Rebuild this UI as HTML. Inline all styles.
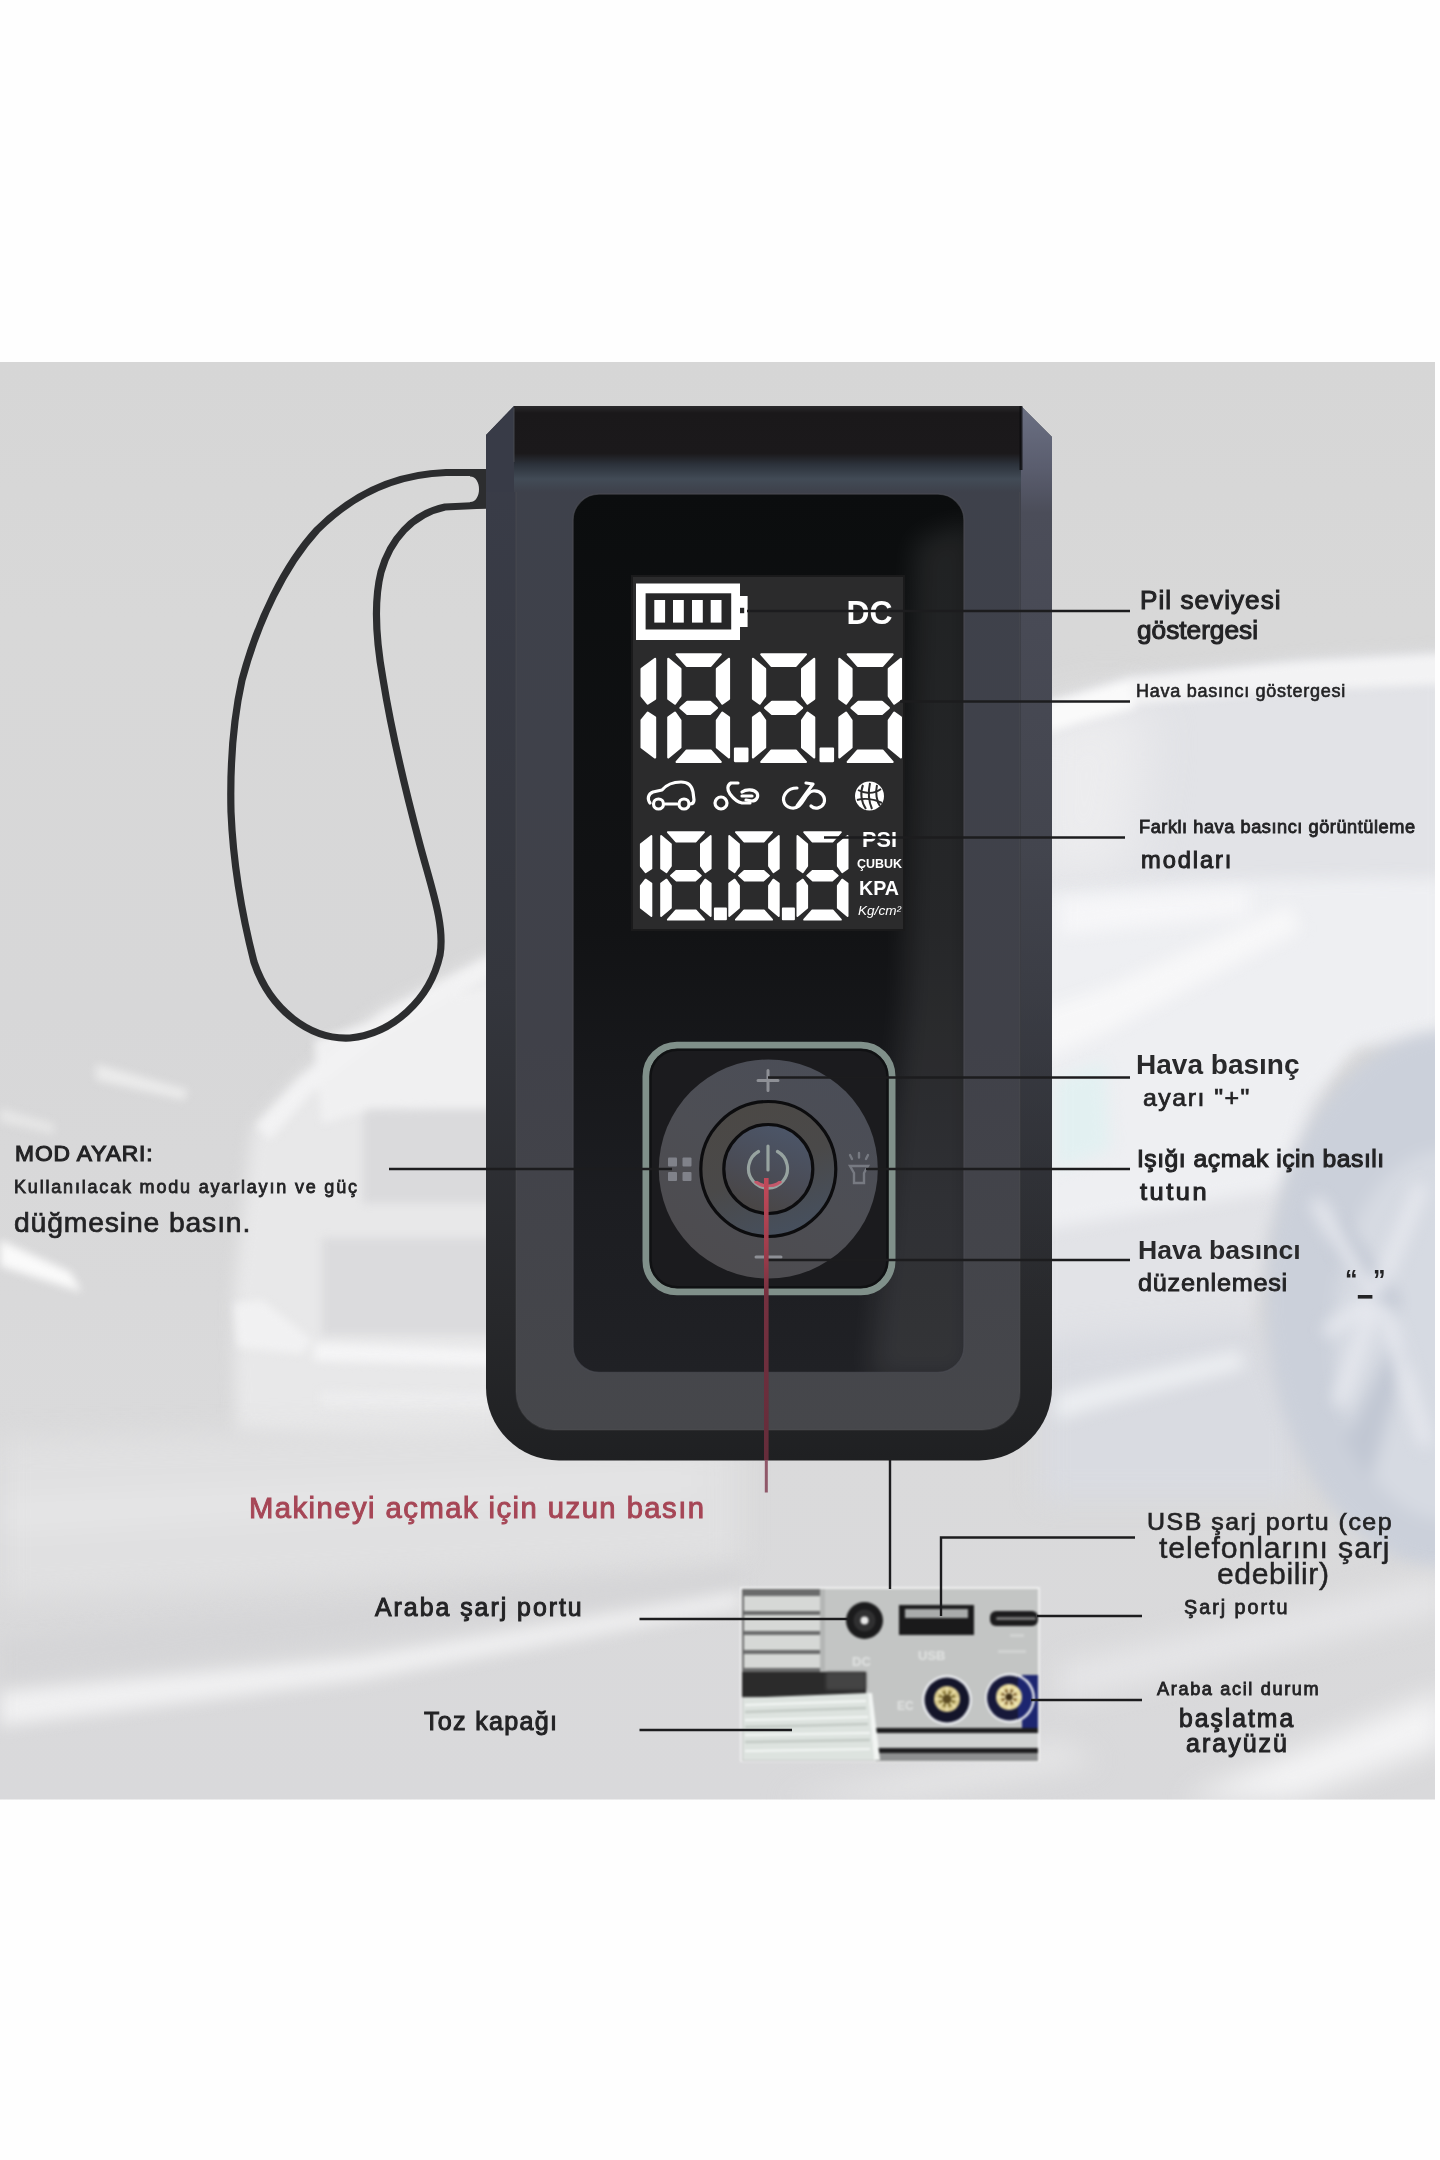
<!DOCTYPE html>
<html lang="tr">
<head>
<meta charset="utf-8">
<title>Lastik Pompası - Ürün Şeması</title>
<style>
html,body{margin:0;padding:0;background:#fefefe;}
body{width:1440px;height:2160px;position:relative;overflow:hidden;font-family:"Liberation Sans",sans-serif;}
#stage{position:absolute;left:0;top:0;width:1440px;height:2160px;}
#art{position:absolute;left:0;top:0;}
.t{position:absolute;white-space:nowrap;line-height:1;transform-origin:0 50%;color:#222;-webkit-text-stroke:0 currentColor;letter-spacing:0;filter:blur(0.45px);}
.lcd{font-family:"Liberation Sans",sans-serif;fill:#fff;}
</style>
</head>
<body>
<div id="stage">
<svg id="art" width="1440" height="2160" viewBox="0 0 1440 2160">
<defs>
<clipPath id="photo"><rect x="0" y="362" width="1435" height="1437.5"/></clipPath>
<filter color-interpolation-filters="sRGB" id="b4" x="-20%" y="-20%" width="140%" height="140%"><feGaussianBlur stdDeviation="4"/></filter>
<filter color-interpolation-filters="sRGB" id="b8" x="-30%" y="-30%" width="160%" height="160%"><feGaussianBlur stdDeviation="8"/></filter>
<filter color-interpolation-filters="sRGB" id="b14" x="-30%" y="-30%" width="160%" height="160%"><feGaussianBlur stdDeviation="14"/></filter>
<filter color-interpolation-filters="sRGB" id="b25" x="-40%" y="-40%" width="180%" height="180%"><feGaussianBlur stdDeviation="25"/></filter>
<filter color-interpolation-filters="sRGB" id="b40" x="-50%" y="-50%" width="200%" height="200%"><feGaussianBlur stdDeviation="40"/></filter>
<filter color-interpolation-filters="sRGB" id="b1" x="-10%" y="-10%" width="120%" height="120%"><feGaussianBlur stdDeviation="0.7"/></filter>
<filter color-interpolation-filters="sRGB" id="b2" x="-10%" y="-10%" width="120%" height="120%"><feGaussianBlur stdDeviation="1.6"/></filter>
<linearGradient id="bgbase" x1="0" y1="0" x2="0" y2="1">
  <stop offset="0" stop-color="#d6d6d6"/>
  <stop offset="0.18" stop-color="#d8d8d8"/>
  <stop offset="0.45" stop-color="#d7d7d8"/>
  <stop offset="0.75" stop-color="#dadadb"/>
  <stop offset="1" stop-color="#d9d9db"/>
</linearGradient>
<linearGradient id="bodyOuter" x1="0" y1="0" x2="0" y2="1">
  <stop offset="0" stop-color="#3a3d49"/>
  <stop offset="0.55" stop-color="#34363d"/>
  <stop offset="0.85" stop-color="#28292c"/>
  <stop offset="1" stop-color="#1f2022"/>
</linearGradient>
<linearGradient id="bodyFace" x1="0" y1="0" x2="0" y2="1">
  <stop offset="0" stop-color="#3e414b"/>
  <stop offset="0.6" stop-color="#404149"/>
  <stop offset="1" stop-color="#46474b"/>
</linearGradient>
<linearGradient id="rightStrip" gradientUnits="userSpaceOnUse" x1="0" y1="406" x2="0" y2="1300">
  <stop offset="0" stop-color="#6b7083"/>
  <stop offset="0.07" stop-color="#5a5d6e"/>
  <stop offset="0.12" stop-color="#4b4d59"/>
  <stop offset="0.5" stop-color="#44464f" stop-opacity="0.9"/>
  <stop offset="1" stop-color="#34363d" stop-opacity="0"/>
</linearGradient>
<linearGradient id="lid" x1="0" y1="0" x2="0" y2="1">
  <stop offset="0" stop-color="#2a292b"/>
  <stop offset="0.08" stop-color="#1a181a"/>
  <stop offset="0.55" stop-color="#1b191b"/>
  <stop offset="0.68" stop-color="#2c323b"/>
  <stop offset="0.85" stop-color="#424b56"/>
  <stop offset="1" stop-color="#3e414b"/>
</linearGradient>
<linearGradient id="panel" x1="0" y1="0" x2="0" y2="1">
  <stop offset="0" stop-color="#0b0d0e"/>
  <stop offset="0.5" stop-color="#121315"/>
  <stop offset="0.8" stop-color="#1c1d21"/>
  <stop offset="1" stop-color="#202125"/>
</linearGradient>
<linearGradient id="dial" x1="0.8" y1="0" x2="0.2" y2="1">
  <stop offset="0" stop-color="#4a4d57"/>
  <stop offset="0.5" stop-color="#4d4e54"/>
  <stop offset="1" stop-color="#4d4b4e"/>
</linearGradient>
<linearGradient id="dialMid" x1="0.3" y1="0" x2="0.7" y2="1">
  <stop offset="0" stop-color="#4b4845"/>
  <stop offset="0.5" stop-color="#4a4949"/>
  <stop offset="1" stop-color="#46505f"/>
</linearGradient>
<linearGradient id="dialIn" x1="0.7" y1="0" x2="0.3" y2="1">
  <stop offset="0" stop-color="#4c5669"/>
  <stop offset="0.55" stop-color="#4a4c56"/>
  <stop offset="1" stop-color="#494543"/>
</linearGradient>
<linearGradient id="redline" gradientUnits="userSpaceOnUse" x1="0" y1="1178" x2="0" y2="1460">
  <stop offset="0" stop-color="#c24a5a"/>
  <stop offset="0.25" stop-color="#a03d4c"/>
  <stop offset="0.42" stop-color="#74303f"/>
  <stop offset="1" stop-color="#642c3a"/>
</linearGradient>
<filter color-interpolation-filters="sRGB" id="b11" x="-5%" y="-5%" width="110%" height="110%"><feGaussianBlur stdDeviation="1.0"/></filter>
<filter color-interpolation-filters="sRGB" id="bdev" filterUnits="userSpaceOnUse" x="470" y="390" width="600" height="1090"><feGaussianBlur stdDeviation="0.6"/></filter>
<filter color-interpolation-filters="sRGB" id="bstrap" filterUnits="userSpaceOnUse" x="210" y="450" width="290" height="610"><feGaussianBlur stdDeviation="0.6"/></filter>
<clipPath id="panelclip"><rect x="573" y="494" width="391" height="878.5" rx="26"/></clipPath>
<filter color-interpolation-filters="sRGB" id="b14w" x="-100%" y="-20%" width="300%" height="140%"><feGaussianBlur stdDeviation="14"/></filter>

</defs>
<g clip-path="url(#photo)">
  <rect x="0" y="362" width="1435" height="1438" fill="url(#bgbase)"/>
  <!-- right car body -->
  <g filter="url(#b8)">
    <path d="M1040 708 L1130 676 L1300 660 L1445 652 L1445 1060 L1340 1040 L1310 1140 L1270 1235 L1250 1340 L1040 1360 Z" fill="#e2e3e7"/>
  </g>
  <g filter="url(#b25)">
    <path d="M1030 720 L1120 700 L1150 720 L1130 870 L1030 880 Z" fill="#ececee"/>
  </g>
  <g filter="url(#b14)">
    <path d="M1040 1340 L1260 1320 L1300 1420 L1300 1500 L1040 1500 Z" fill="#d9dbe1"/>

  </g>
  <g filter="url(#b8)">
    <path d="M1040 892 L1200 880 L1445 878 L1445 1030 L1360 1045 L1310 1100 L1278 1190 L1040 1230 Z" fill="#eeeff2"/>
  </g>
  <g filter="url(#b8)">
    <path d="M1040 1010 L1100 990 L1290 905 L1300 930 L1110 1030 L1040 1060 Z" fill="#f7f7f8"/>
    <path d="M1060 900 L1250 890 L1250 915 L1060 935 Z" fill="#f6f6f8"/>
  </g>
  <g filter="url(#b8)">
    <ellipse cx="1450" cy="1300" rx="184" ry="268" fill="#cbd0da"/>
    <ellipse cx="1445" cy="1335" rx="112" ry="185" fill="#d6dae2"/>
    <path d="M1390 1324 L1330 1250 L1340 1215 L1400 1300 Z" fill="#bfc5d1"/>
    <path d="M1395 1340 L1345 1440 L1370 1480 L1405 1360 Z" fill="#c1c7d3"/>
  </g>
  <g filter="url(#b4)">
    <path d="M1040 706 L1130 678 L1300 662 L1445 654 L1445 684 L1300 690 L1135 704 L1040 736 Z" fill="#f3f3f4"/>
    <path d="M1048 702 L1130 682 L1135 708 L1050 730 Z" fill="#fafafa"/>
  </g>
  <g filter="url(#b8)">
    <path d="M1056 1080 L1105 1062 L1110 1150 L1056 1170 Z" fill="#e2f0f1"/>
    <!-- wheel spokes -->
    <g stroke="#e6e8ee" stroke-width="14" fill="none" stroke-linecap="round">
      <path d="M1318 1205 L1368 1290"/>
      <path d="M1420 1190 L1378 1290"/>
      <path d="M1372 1310 L1340 1400"/>
      <path d="M1385 1310 L1425 1440"/>
      <path d="M1330 1330 L1365 1305"/>
    </g>
    <path d="M1056 1395 L1090 1385 L1240 1350 L1245 1368 L1095 1408 L1056 1420 Z" fill="#eceef1"/>
  </g>
  <!-- left car -->
  <g filter="url(#b8)">
    <path d="M252 1128 L300 1075 L380 1010 L500 948 L500 1452 L236 1432 L233 1300 Z" fill="#e8e8e9"/>
  </g>
  <g filter="url(#b4)">
    <path d="M314 1040 L500 982 L500 1110 L372 1108 L322 1124 Z" fill="#f0f0f1"/>
    <path d="M256 1126 L300 1078 L382 1013 L500 951 L500 972 L392 1030 L312 1092 L270 1140 Z" fill="#f2f2f3"/>
    <path d="M372 1109 Q363 1109 363 1120 L363 1203 L500 1203 L500 1109 Z" fill="#dadadc"/>
    <rect x="322" y="1238" width="178" height="97" fill="#dbdbdd"/>
    <path d="M234 1303 L262 1300 L312 1340 L302 1354 L238 1347 Z" fill="#f1f1f2"/>
    <path d="M314 1343 L500 1350 L500 1366 L314 1361 Z" fill="#f4f4f5"/>
    <path d="M320 1391 L500 1393 L500 1410 L320 1408 Z" fill="#ececed"/>
  </g>
  <!-- streaks left -->
  <g filter="url(#b4)">
    <path d="M0 1240 L70 1272 L82 1292 L0 1266 Z" fill="#fafafa"/>
    <path d="M96 1064 L188 1090 L184 1100 L96 1080 Z" fill="#ebebeb"/>
    <path d="M0 1108 L54 1124 L54 1134 L0 1122 Z" fill="#e6e6e6"/>
  </g>
  <!-- road -->
  <g filter="url(#b14)">
    <path d="M0 1440 L500 1425 L740 1440 L740 1560 L0 1600 Z" fill="#e0e0e1"/>
    <path d="M0 1500 L700 1470 L700 1490 L0 1530 Z" fill="#e6e6e7"/>
  </g>
  <g filter="url(#b8)">
    <path d="M0 1640 L740 1568 L740 1590 L0 1682 Z" fill="#d5d5d7"/>
    <path d="M0 1692 L360 1657 L740 1592 L740 1607 L360 1680 L0 1726 Z" fill="#f0f0f1"/>
  </g>
  <g filter="url(#b14)">
    <path d="M1180 1800 L1445 1690 L1445 1745 L1290 1800 Z" fill="#f4f4f5"/>
    <path d="M1060 1665 L1445 1575 L1445 1612 L1060 1702 Z" fill="#e6e6e8"/>
    <path d="M780 1800 L1060 1742 L1100 1762 L900 1800 Z" fill="#e6e6e7"/>
  </g>
</g>

<g filter="url(#bstrap)" fill="none" stroke="#2c2d2f" stroke-width="7.2" stroke-linecap="butt" stroke-linejoin="round">
  <path d="M487 472.5 L446 472.5 C 400 474, 355 492, 317 530 C 285 565, 258 620, 242 680 C 232 725, 230 770, 231 812 C 233 860, 242 915, 254 962 C 270 1010, 310 1040, 350 1038 C 392 1034, 430 1000, 440 955 C 445 925, 432 890, 420 845 C 408 800, 392 735, 383 679 C 376 640, 374 600, 381 572 C 390 540, 412 514, 445 507 L487 505"/>
</g>
<path d="M470 470 H487 V508.5 H470 V502 C482 502 482 476.5 470 476.5 Z" fill="#2c2d2f"/>

<g id="device" filter="url(#bdev)">
  <!-- outer shell -->
  <path d="M514 406 L1021 406 L1052 437 L1052 1387.5 A73 73 0 0 1 979 1460.5 L559 1460.5 A73 73 0 0 1 486 1387.5 L486 435 Z" fill="url(#bodyOuter)"/>
  <!-- right strip lighter -->
  <path d="M1021 406 L1052 437 L1052 1300 L1021 1300 Z" fill="url(#rightStrip)"/>
  <!-- face -->
  <path d="M516 462 L1020 462 L1020 1392 A38 38 0 0 1 982 1430 L554 1430 A38 38 0 0 1 516 1392 Z" fill="url(#bodyFace)"/>
  <!-- lid -->
  <path d="M514 406 L1021 406 L1021 492 L514 492 Z" fill="url(#lid)"/>
  <path d="M514 406 L514 492 L486 492 L486 435 Z" fill="#383b47"/>
  <path d="M514 408 L514 462" stroke="#4a4b52" stroke-width="1.5" opacity="0.6"/>
  <path d="M1021 406 L1021 470" stroke="#0c0c0e" stroke-width="3" opacity="0.8"/>
  <!-- subtle bevel lines -->
  <path d="M516 492 L516 1392 A38 38 0 0 0 554 1430 L982 1430 A38 38 0 0 0 1020 1392 L1020 492" fill="none" stroke="#55565b" stroke-width="1.5" opacity="0.28"/>
  <!-- inner glossy panel -->
  <rect x="573" y="494" width="391" height="878.5" rx="26" fill="url(#panel)"/>
  <g clip-path="url(#panelclip)"><path d="M915 540 L975 520 L975 1380 L870 1380 L905 1000 Z" fill="#ffffff" opacity="0.085" filter="url(#b14w)"/></g>
  <rect x="573" y="494" width="391" height="878.5" rx="26" fill="none" stroke="#4a4c52" stroke-width="1.5" opacity="0.7"/>
</g>

<g id="lcd">
  <rect x="632" y="576" width="272" height="354" fill="#2b2b2c"/>
  <rect x="632" y="576" width="272" height="354" fill="none" stroke="#1a1a1b" stroke-width="2"/>
  <!-- battery -->
  <g filter="url(#b1)">
  <path d="M636 583.6 H740 V596 H747.6 V627 H740 V640 H636 Z" fill="#fff"/>
  <rect x="645.6" y="593.3" width="85.6" height="36.2" fill="#262627"/>
  <g fill="#fff">
    <rect x="654.3" y="600" width="10.8" height="22.6"/>
    <rect x="673" y="600" width="10.8" height="22.6"/>
    <rect x="692" y="600" width="10.8" height="22.6"/>
    <rect x="710.7" y="600" width="10.8" height="22.6"/>
  </g>
  <rect x="740" y="607.8" width="4.2" height="5.4" fill="#262627"/>
  </g>
  <!-- DC -->
  <text class="lcd" x="846.6" y="623.6" font-size="34" font-weight="700" textLength="46" lengthAdjust="spacingAndGlyphs" filter="url(#b1)">DC</text>
  <!-- big digits -->
  <g fill="#fff" stroke="#fff" stroke-width="2.2" stroke-linejoin="round" filter="url(#b1)">
<polygon points="655.1,658.8 641.6,668.9 641.6,696.0 647.7,703.6 655.1,698.8"/>
<polygon points="655.1,757.5 641.6,747.4 641.6,720.3 647.7,712.7 655.1,717.5"/>
<polygon points="676.6,654.3 720.7,654.3 710.6,665.8 686.7,665.8"/>
<polygon points="729.0,658.8 716.9,668.9 716.9,696.0 722.3,703.6 729.0,698.8"/>
<polygon points="729.0,757.5 716.9,747.4 716.9,720.3 722.3,712.7 729.0,717.5"/>
<polygon points="676.6,762.0 720.7,762.0 710.6,750.5 686.7,750.5"/>
<polygon points="668.3,757.5 680.4,747.4 680.4,720.3 675.0,712.7 668.3,717.5"/>
<polygon points="668.3,658.8 680.4,668.9 680.4,696.0 675.0,703.6 668.3,698.8"/>
<polygon points="680.4,707.9 687.3,701.8 710.0,701.8 716.9,707.9 710.0,714.0 687.3,714.0"/>
<rect x="735" y="748.5" width="12.4" height="12.6"/>
<polygon points="761.3,654.3 805.9,654.3 795.8,665.8 771.4,665.8"/>
<polygon points="814.2,658.8 802.1,668.9 802.1,696.0 807.5,703.6 814.2,698.8"/>
<polygon points="814.2,757.5 802.1,747.4 802.1,720.3 807.5,712.7 814.2,717.5"/>
<polygon points="761.3,762.0 805.9,762.0 795.8,750.5 771.4,750.5"/>
<polygon points="753.0,757.5 765.1,747.4 765.1,720.3 759.7,712.7 753.0,717.5"/>
<polygon points="753.0,658.8 765.1,668.9 765.1,696.0 759.7,703.6 753.0,698.8"/>
<polygon points="765.1,707.9 772.0,701.8 795.2,701.8 802.1,707.9 795.2,714.0 772.0,714.0"/>
<rect x="820.6" y="748.5" width="12.4" height="12.6"/>
<polygon points="847.7,654.3 892.6,654.3 882.5,665.8 857.8,665.8"/>
<polygon points="900.9,658.8 888.8,668.9 888.8,696.0 894.2,703.6 900.9,698.8"/>
<polygon points="900.9,757.5 888.8,747.4 888.8,720.3 894.2,712.7 900.9,717.5"/>
<polygon points="847.7,762.0 892.6,762.0 882.5,750.5 857.8,750.5"/>
<polygon points="839.4,757.5 851.5,747.4 851.5,720.3 846.1,712.7 839.4,717.5"/>
<polygon points="839.4,658.8 851.5,668.9 851.5,696.0 846.1,703.6 839.4,698.8"/>
<polygon points="851.5,707.9 858.4,701.8 881.9,701.8 888.8,707.9 881.9,714.0 858.4,714.0"/>
  </g>
  <!-- icons -->
  <g fill="none" stroke="#fff" stroke-width="3.2" stroke-linecap="round" stroke-linejoin="round" filter="url(#b1)">
    <!-- car -->
    <path d="M650 803 C647 799 648 794 653 792 L662 790 C667 784 674 782 681 782 C688 782 692 786 693 792 L694 800 C694 803 692 804 690 804 M677 804 L665 804"/>
    <circle cx="658.5" cy="804" r="5"/>
    <circle cx="684" cy="804" r="5"/>
    <!-- scooter -->
    <circle cx="721" cy="803" r="6"/>
    <path d="M738 783 L731 783 C727 785 727 790 730 794 C733 798 737 802 742 803 L750 803"/>
    <path d="M742 792 C746 789 754 789 757 793 C759 797 756 801 752 801 L746 800 M742 796 L752 796"/>
    <!-- bicycle -->
    <path d="M806 783 L813 784 L797 806"/>
    <path d="M797 788 C787 788 782 796 784 802 C786 808 794 810 799 806 C805 801 806 792 813 791 C821 790 826 797 824 803 C822 808 815 810 811 806"/>
  </g>
  <!-- ball -->
  <g filter="url(#b1)">
    <circle cx="869.5" cy="796" r="14.5" fill="#fff"/>
    <g fill="none" stroke="#2b2b2c" stroke-width="2">
      <path d="M858 790 C865 794 874 794 881 789"/>
      <path d="M863 785 C860 792 861 802 866 809"/>
      <path d="M870 783 C868 792 869 802 872 809"/>
      <path d="M877 785 C875 793 877 802 880 806"/>
      <path d="M857 800 C864 798 874 799 882 803"/>
    </g>
  </g>
  <!-- small digits -->
  <g fill="#fff" stroke="#fff" stroke-width="1.8" stroke-linejoin="round" filter="url(#b1)">
<polygon points="651.4,835.9 640.8,844.1 640.8,866.1 645.6,872.3 651.4,868.4"/>
<polygon points="651.4,916.0 640.8,907.8 640.8,885.8 645.6,879.6 651.4,883.5"/>
<polygon points="667.8,832.2 704.0,832.2 695.8,841.5 676.0,841.5"/>
<polygon points="710.7,835.9 700.9,844.1 700.9,866.1 705.3,872.3 710.7,868.4"/>
<polygon points="710.7,916.0 700.9,907.8 700.9,885.8 705.3,879.6 710.7,883.5"/>
<polygon points="667.8,919.7 704.0,919.7 695.8,910.4 676.0,910.4"/>
<polygon points="661.1,916.0 670.9,907.8 670.9,885.8 666.5,879.6 661.1,883.5"/>
<polygon points="661.1,835.9 670.9,844.1 670.9,866.1 666.5,872.3 661.1,868.4"/>
<polygon points="670.9,875.7 676.5,870.8 695.3,870.8 700.9,875.7 695.3,880.7 676.5,880.7"/>
<rect x="714.8" y="908.5" width="11.2" height="10.8"/>
<polygon points="735.9,832.2 772.1,832.2 763.9,841.5 744.1,841.5"/>
<polygon points="778.8,835.9 769.0,844.1 769.0,866.1 773.4,872.3 778.8,868.4"/>
<polygon points="778.8,916.0 769.0,907.8 769.0,885.8 773.4,879.6 778.8,883.5"/>
<polygon points="735.9,919.7 772.1,919.7 763.9,910.4 744.1,910.4"/>
<polygon points="729.2,916.0 739.0,907.8 739.0,885.8 734.6,879.6 729.2,883.5"/>
<polygon points="729.2,835.9 739.0,844.1 739.0,866.1 734.6,872.3 729.2,868.4"/>
<polygon points="739.0,875.7 744.6,870.8 763.4,870.8 769.0,875.7 763.4,880.7 744.6,880.7"/>
<rect x="782.8" y="908.5" width="11.2" height="10.8"/>
<polygon points="804.1,832.2 840.9,832.2 832.7,841.5 812.3,841.5"/>
<polygon points="847.6,835.9 837.8,844.1 837.8,866.1 842.2,872.3 847.6,868.4"/>
<polygon points="847.6,916.0 837.8,907.8 837.8,885.8 842.2,879.6 847.6,883.5"/>
<polygon points="804.1,919.7 840.9,919.7 832.7,910.4 812.3,910.4"/>
<polygon points="797.4,916.0 807.2,907.8 807.2,885.8 802.8,879.6 797.4,883.5"/>
<polygon points="797.4,835.9 807.2,844.1 807.2,866.1 802.8,872.3 797.4,868.4"/>
<polygon points="807.2,875.7 812.8,870.8 832.2,870.8 837.8,875.7 832.2,880.7 812.8,880.7"/>
  </g>
  <path d="M834 833 L848 833 L848 836 L840 838 L834 836 Z" fill="#fff" opacity="0.0"/>
  <!-- units -->
  <g filter="url(#b1)">
  <text class="lcd" x="862" y="847" font-size="21.5" font-weight="700" textLength="35" lengthAdjust="spacingAndGlyphs">PSI</text>
  <text class="lcd" x="857" y="868" font-size="12.5" font-weight="700" textLength="45" lengthAdjust="spacingAndGlyphs" fill="#ddd">ÇUBUK</text>
  <text class="lcd" x="859" y="895" font-size="20.5" font-weight="700" textLength="40" lengthAdjust="spacingAndGlyphs">KPA</text>
  <text class="lcd" x="858" y="915" font-size="13" font-style="italic" textLength="43" lengthAdjust="spacingAndGlyphs" fill="#9a9a9a">Kg/cm²</text>
  </g>
</g>

<g id="buttons">
  <rect x="646" y="1045.2" width="246" height="246.6" rx="31" fill="#1b1b1e" stroke="#80908a" stroke-width="7"/>
  <rect x="650.5" y="1049.7" width="237" height="237.6" rx="27" fill="none" stroke="#0e0f10" stroke-width="2.5" opacity="0.8"/>
  <circle cx="768.3" cy="1169" r="109.5" fill="url(#dial)"/>
  <circle cx="768.3" cy="1169" r="67.5" fill="url(#dialMid)" stroke="#0c0c0e" stroke-width="3.2"/>
  <circle cx="768.3" cy="1169" r="44.5" fill="url(#dialIn)" stroke="#0c0c0e" stroke-width="3.2"/>
  <!-- power icon -->
  <g fill="none" stroke="#97a3a0" stroke-width="3.2" stroke-linecap="round" filter="url(#b1)">
    <path d="M758.5 1151.5 A19.5 19.5 0 1 0 777.5 1151.5"/>
    <path d="M768 1146 L768 1170"/>
  </g>
  <path d="M756 1182 A19.5 19.5 0 0 0 780 1182" fill="none" stroke="#c4586a" stroke-width="3.4" stroke-linecap="round" filter="url(#b1)"/>
  <!-- plus / minus -->
  <g stroke="#8e9096" stroke-width="3" stroke-linecap="round" filter="url(#b1)">
    <path d="M758 1080.5 H778 M768 1070.5 V1090.5"/>
    <path d="M756 1257 H781"/>
  </g>
  <!-- mode (4 squares) -->
  <g fill="#80828a" filter="url(#b1)">
    <rect x="668" y="1157.5" width="9" height="9" rx="1"/>
    <rect x="682.5" y="1157.5" width="9" height="9" rx="1"/>
    <rect x="668" y="1172" width="9" height="9" rx="1"/>
    <rect x="682.5" y="1172" width="9" height="9" rx="1"/>
  </g>
  <!-- light icon -->
  <g stroke="#777a82" stroke-width="2.4" fill="none" stroke-linecap="round" filter="url(#b1)">
    <path d="M850 1166 H868 L864 1173 V1183 H854 V1173 Z"/>
    <path d="M852 1159 L850 1155 M859 1157.5 V1153 M866 1159 L868 1155"/>
  </g>
</g>

<g id="ports" filter="url(#b11)">
  <rect x="740" y="1587" width="300" height="175" fill="#f0f0f0"/>
  <rect x="742" y="1589" width="296" height="172" fill="#c3c5c4"/>
  <!-- vent -->
  <rect x="742" y="1589" width="82" height="84" fill="#6a6b6b"/>
  <g fill="#d6d8d6">
    <rect x="744" y="1596" width="76" height="15"/>
    <rect x="744" y="1615" width="76" height="16"/>
    <rect x="744" y="1635" width="76" height="15"/>
    <rect x="744" y="1654" width="76" height="14"/>
  </g>
  <rect x="820" y="1589" width="5" height="84" fill="#b4b6b5"/>
  <!-- dark gap -->
  <path d="M742 1672 H866 V1697 H742 Z" fill="#2b2b2b"/>
  <path d="M826 1672 H866 V1690 H826 Z" fill="#444" filter="url(#b2)"/>
  <!-- dust cap -->
  <path d="M743 1698 L868 1693 L874 1760 L743 1760 Z" fill="#dde3df"/>
  <g stroke="#c3cac5" stroke-width="2.5">
    <path d="M745 1712 L866 1708"/><path d="M745 1727 L868 1724"/><path d="M745 1742 L870 1740"/>
  </g>
  <g stroke="#f4f7f5" stroke-width="2">
    <path d="M745 1705 L866 1701"/><path d="M745 1720 L868 1717"/><path d="M745 1735 L870 1733"/><path d="M745 1751 L870 1749"/>
  </g>
  <!-- DC jack -->
  <circle cx="864.5" cy="1620.5" r="18.5" fill="#1b1b1c"/>
  <circle cx="864.5" cy="1620.5" r="11" fill="#303031"/>
  <circle cx="864.5" cy="1620.5" r="4" fill="#e8e8e8"/>
  <!-- USB -->
  <rect x="899" y="1605" width="75" height="30" fill="#1a1a1b"/>
  <rect x="905" y="1609" width="63" height="9" fill="#a9abab"/>
  <!-- USB-C -->
  <rect x="990" y="1611" width="48" height="15" rx="6" fill="#1c1c1d"/>
  <rect x="996" y="1617" width="40" height="3" rx="1.5" fill="#777"/>
  <!-- labels -->
  <g font-family="Liberation Sans, sans-serif" font-weight="700" fill="#e4e6e5" filter="url(#b1)" opacity="0.9">
    <text x="852" y="1666" font-size="13">DC</text>
    <text x="918" y="1660" font-size="13">USB</text>
    <text x="897" y="1710" font-size="12">EC</text>
  </g>
  <g fill="#d5d7d6" opacity="0.8"><rect x="1010" y="1634" width="14" height="3"/><rect x="998" y="1650" width="28" height="3"/></g>
  <!-- EC5 -->
  <path d="M1022 1675 H1038 V1728 H1022 Z" fill="#1d2670"/>
  <circle cx="947" cy="1700" r="25" fill="#e9ebef"/>
  <circle cx="1010" cy="1698" r="25" fill="#e9ebef"/>
  <circle cx="947" cy="1700" r="22.5" fill="#14152a"/>
  <circle cx="1009.5" cy="1698" r="22.5" fill="#17193a"/>
  <path d="M1018 1677 A22.5 22.5 0 0 1 1018 1719 Z" fill="#1d2670"/>
  <circle cx="947" cy="1699" r="13" fill="#d8c98c"/>
  <circle cx="947" cy="1699" r="8.5" fill="#8a7a3a"/>
  <circle cx="947" cy="1699" r="4" fill="#3a3216"/>
  <circle cx="1009" cy="1697" r="13" fill="#e6d89a"/>
  <circle cx="1009" cy="1697" r="8" fill="#7a5a2a"/>
  <circle cx="1009" cy="1697" r="3.5" fill="#2a1e10"/>
  <g stroke="#f3e9b8" stroke-width="2.4">
    <path d="M1009 1685 V1709 M997 1697 H1021 M1000.5 1688.5 L1017.5 1705.5 M1017.5 1688.5 L1000.5 1705.5"/>
  </g>
  <circle cx="1009" cy="1697" r="3.5" fill="#3a2a14"/>
  <g stroke="#efe3ae" stroke-width="2">
    <path d="M947 1687 V1711 M935 1699 H959 M938.5 1690.5 L955.5 1707.5 M955.5 1690.5 L938.5 1707.5"/>
  </g>
  <circle cx="947" cy="1699" r="4.5" fill="#5a4a20"/>
  <!-- bottom rails -->
  <rect x="874" y="1728" width="164" height="5" fill="#1d1d1e"/>
  <rect x="874" y="1733" width="164" height="15" fill="#d0d2d1"/>
  <rect x="876" y="1748" width="162" height="5" fill="#1d1d1e"/>
  <rect x="876" y="1753" width="162" height="8" fill="#8e9090"/>
  <path d="M868 1693 L874 1760 L880 1760 L872 1693 Z" fill="#f2f5f3"/>
</g>

<g id="lines" fill="none" stroke="#1c1c1e" stroke-width="2.4">
  <path d="M747 611 H1130"/>
  <path d="M900 701.5 H1130"/>
  <path d="M824 837.5 H1125"/>
  <path d="M768 1077.5 H1130"/>
  <path d="M866 1169 H1130"/>
  <path d="M768 1260 H1130"/>
  <path d="M389 1169 H672"/>
  <path d="M890 1460 V1589"/>
  <path d="M941 1616 V1537.5 H1135"/>
  <path d="M1037 1616 H1142"/>
  <path d="M1031 1700 H1142"/>
  <path d="M639.5 1619 H848"/>
  <path d="M639.5 1730 H792"/>
</g>
<g filter="url(#b1)"><rect x="764" y="1178" width="4.6" height="282" fill="url(#redline)"/>
<rect x="764.8" y="1460" width="3" height="32.5" fill="#8f5869"/></g>
<rect x="1357.8" y="1295" width="14.6" height="3.6" fill="#232325"/>

</svg>
<div class="t" id="t1" style="left:1139.6px;top:588.0px;font-size:25.7px;color:#232325;font-weight:400;-webkit-text-stroke-width:1.05px;letter-spacing:1.03px;transform:scaleX(1.0158)">Pil seviyesi</div>
<div class="t" id="t2" style="left:1136.8px;top:618.4px;font-size:25.7px;color:#232325;font-weight:400;-webkit-text-stroke-width:1.05px;transform:scaleX(1.0206)">göstergesi</div>
<div class="t" id="t3" style="left:1136.3px;top:683.1px;font-size:17.6px;color:#232325;font-weight:400;-webkit-text-stroke-width:0.6px;letter-spacing:0.70px;transform:scaleX(1.0250)">Hava basıncı göstergesi</div>
<div class="t" id="t4" style="left:1139.0px;top:817.8px;font-size:18px;color:#232325;font-weight:400;-webkit-text-stroke-width:0.85px;letter-spacing:0.54px;transform:scaleX(1.0098)">Farklı hava basıncı görüntüleme</div>
<div class="t" id="t5" style="left:1140.5px;top:849.0px;font-size:23.6px;color:#232325;font-weight:400;-webkit-text-stroke-width:1.0px;letter-spacing:1.89px;transform:scaleX(1.0039)">modları</div>
<div class="t" id="t6" style="left:1136.3px;top:1051.6px;font-size:27px;color:#29292b;font-weight:700;transform:scaleX(1.0379)">Hava basınç</div>
<div class="t" id="t7" style="left:1142.9px;top:1086.8px;font-size:23.6px;color:#232325;font-weight:400;-webkit-text-stroke-width:0.7px;letter-spacing:1.42px;transform:scaleX(1.0551)">ayarı "+"</div>
<div class="t" id="t8" style="left:1136.9px;top:1147.0px;font-size:24.8px;color:#232325;font-weight:400;-webkit-text-stroke-width:1.1px;letter-spacing:0.50px;transform:scaleX(0.9965)">Işığı açmak için basılı</div>
<div class="t" id="t9" style="left:1140.4px;top:1179.7px;font-size:24.6px;color:#232325;font-weight:400;-webkit-text-stroke-width:1.1px;letter-spacing:2.46px;transform:scaleX(1.0304)">tutun</div>
<div class="t" id="t10" style="left:1137.9px;top:1236.7px;font-size:26.4px;color:#29292b;font-weight:700;transform:scaleX(1.0080)">Hava basıncı</div>
<div class="t" id="t11" style="left:1137.9px;top:1270.9px;font-size:24.6px;color:#232325;font-weight:400;-webkit-text-stroke-width:0.9px;letter-spacing:0.74px;transform:scaleX(1.0258)">düzenlemesi</div>
<div class="t" id="t12" style="left:1147.4px;top:1509.7px;font-size:24px;color:#232325;font-weight:400;-webkit-text-stroke-width:0.7px;letter-spacing:1.44px;transform:scaleX(1.0394)">USB şarj portu (cep</div>
<div class="t" id="t13" style="left:1158.9px;top:1533.0px;font-size:30px;color:#232325;font-weight:400;-webkit-text-stroke-width:0.45px;letter-spacing:0.90px;transform:scaleX(1.0080)">telefonlarını şarj</div>
<div class="t" id="t14" style="left:1216.8px;top:1559.0px;font-size:30px;color:#232325;font-weight:400;-webkit-text-stroke-width:0.45px;letter-spacing:0.60px;transform:scaleX(1.0044)">edebilir)</div>
<div class="t" id="t15" style="left:1184.4px;top:1597.4px;font-size:20.2px;color:#232325;font-weight:400;-webkit-text-stroke-width:0.8px;letter-spacing:2.02px;transform:scaleX(0.9792)">Şarj portu</div>
<div class="t" id="t16" style="left:1156.7px;top:1679.9px;font-size:18.7px;color:#232325;font-weight:400;-webkit-text-stroke-width:0.85px;letter-spacing:1.68px;transform:scaleX(0.9711)">Araba acil durum</div>
<div class="t" id="t17" style="left:1178.6px;top:1706.2px;font-size:25px;color:#232325;font-weight:400;-webkit-text-stroke-width:1.0px;letter-spacing:2.00px;transform:scaleX(0.9892)">başlatma</div>
<div class="t" id="t18" style="left:1185.7px;top:1730.9px;font-size:25.3px;color:#232325;font-weight:400;-webkit-text-stroke-width:1.0px;letter-spacing:2.02px;transform:scaleX(0.9885)">arayüzü</div>
<div class="t" id="t19" style="left:15.4px;top:1142.0px;font-size:22.9px;color:#232325;font-weight:400;-webkit-text-stroke-width:1.15px;letter-spacing:0.92px;transform:scaleX(0.9946)">MOD AYARI:</div>
<div class="t" id="t20" style="left:13.5px;top:1177.9px;font-size:18.4px;color:#232325;font-weight:400;-webkit-text-stroke-width:0.8px;letter-spacing:1.84px;transform:scaleX(0.9799)">Kullanılacak modu ayarlayın ve güç</div>
<div class="t" id="t21" style="left:13.5px;top:1208.6px;font-size:28px;color:#232325;font-weight:400;-webkit-text-stroke-width:0.7px;letter-spacing:0.84px;transform:scaleX(1.0115)">düğmesine basın.</div>
<div class="t" id="t22" style="left:248.9px;top:1493.3px;font-size:30px;color:#a64656;font-weight:400;-webkit-text-stroke-width:1.0px;letter-spacing:1.50px;transform:scaleX(0.9742)">Makineyi açmak için uzun basın</div>
<div class="t" id="t23" style="left:375.0px;top:1595.2px;font-size:25.2px;color:#232325;font-weight:400;-webkit-text-stroke-width:1.0px;letter-spacing:2.02px;transform:scaleX(0.9866)">Araba şarj portu</div>
<div class="t" id="t24" style="left:423.8px;top:1708.8px;font-size:25.6px;color:#232325;font-weight:400;-webkit-text-stroke-width:1.0px;letter-spacing:1.28px;transform:scaleX(0.9828)">Toz kapağı</div>
<div class="t" id="t25" style="left:1344.7px;top:1267.1px;font-size:27px;color:#232325;font-weight:700;transform:scaleX(0.9273)">“</div>
<div class="t" id="t26" style="left:1373.3px;top:1267.1px;font-size:27px;color:#232325;font-weight:700;transform:scaleX(0.9273)">”</div>
</div>
</body>
</html>
